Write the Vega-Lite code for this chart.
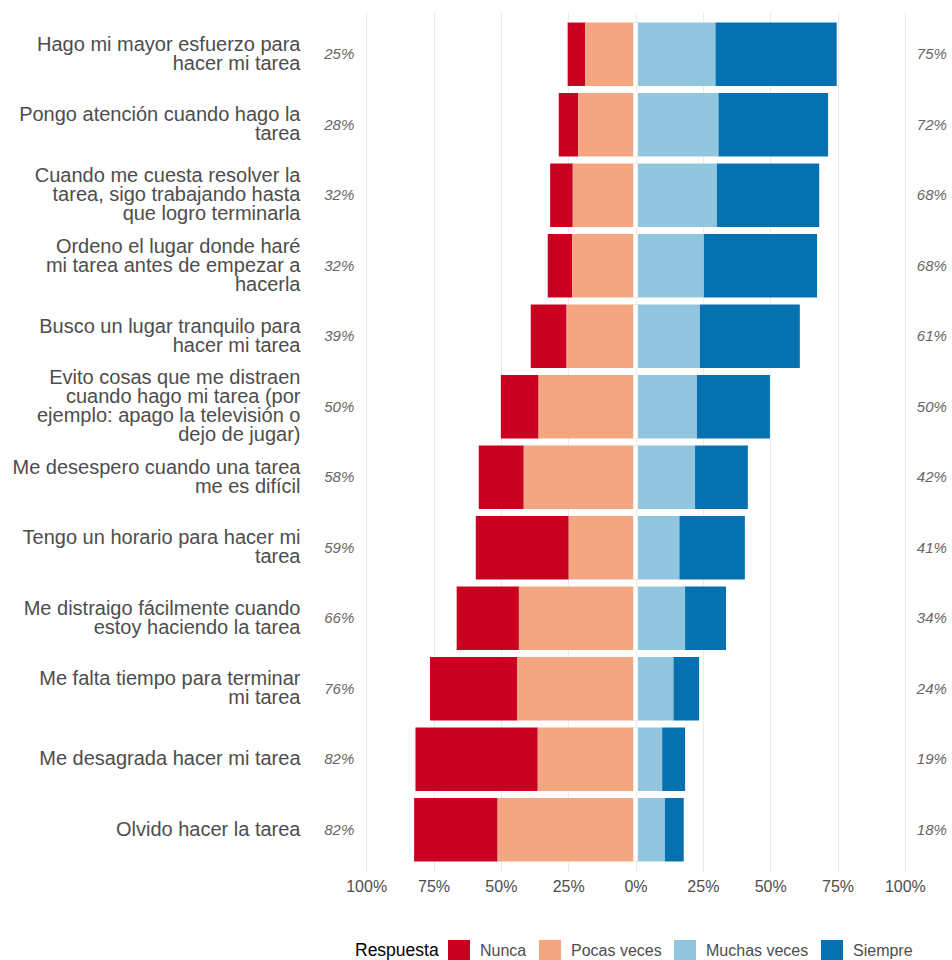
{
  "$schema": "https://vega.github.io/schema/vega-lite/v6.json",
  "autosize": "none",
  "width": 637,
  "height": 860,
  "padding": {"left": 315, "top": 12, "right": 0, "bottom": 88},
  "background": "white",
  "config": {"view": {"stroke": null}, "font": "Liberation Sans"},
  "datasets": {
    "resp": [
      {"item": "Hago mi mayor esfuerzo para|hacer mi tarea", "resp": "Nunca", "o": 2, "v": -6.5},
      {"item": "Hago mi mayor esfuerzo para|hacer mi tarea", "resp": "Pocas veces", "o": 1, "v": -18.7},
      {"item": "Hago mi mayor esfuerzo para|hacer mi tarea", "resp": "Muchas veces", "o": 1, "v": 29.7},
      {"item": "Hago mi mayor esfuerzo para|hacer mi tarea", "resp": "Siempre", "o": 2, "v": 45.0},
      {"item": "Pongo atención cuando hago la|tarea", "resp": "Nunca", "o": 2, "v": -7.2},
      {"item": "Pongo atención cuando hago la|tarea", "resp": "Pocas veces", "o": 1, "v": -21.3},
      {"item": "Pongo atención cuando hago la|tarea", "resp": "Muchas veces", "o": 1, "v": 30.8},
      {"item": "Pongo atención cuando hago la|tarea", "resp": "Siempre", "o": 2, "v": 40.7},
      {"item": "Cuando me cuesta resolver la|tarea, sigo trabajando hasta|que logro terminarla", "resp": "Nunca", "o": 2, "v": -8.4},
      {"item": "Cuando me cuesta resolver la|tarea, sigo trabajando hasta|que logro terminarla", "resp": "Pocas veces", "o": 1, "v": -23.3},
      {"item": "Cuando me cuesta resolver la|tarea, sigo trabajando hasta|que logro terminarla", "resp": "Muchas veces", "o": 1, "v": 30.2},
      {"item": "Cuando me cuesta resolver la|tarea, sigo trabajando hasta|que logro terminarla", "resp": "Siempre", "o": 2, "v": 38.0},
      {"item": "Ordeno el lugar donde haré|mi tarea antes de empezar a|hacerla", "resp": "Nunca", "o": 2, "v": -9.1},
      {"item": "Ordeno el lugar donde haré|mi tarea antes de empezar a|hacerla", "resp": "Pocas veces", "o": 1, "v": -23.5},
      {"item": "Ordeno el lugar donde haré|mi tarea antes de empezar a|hacerla", "resp": "Muchas veces", "o": 1, "v": 25.4},
      {"item": "Ordeno el lugar donde haré|mi tarea antes de empezar a|hacerla", "resp": "Siempre", "o": 2, "v": 42.0},
      {"item": "Busco un lugar tranquilo para|hacer mi tarea", "resp": "Nunca", "o": 2, "v": -13.3},
      {"item": "Busco un lugar tranquilo para|hacer mi tarea", "resp": "Pocas veces", "o": 1, "v": -25.6},
      {"item": "Busco un lugar tranquilo para|hacer mi tarea", "resp": "Muchas veces", "o": 1, "v": 23.9},
      {"item": "Busco un lugar tranquilo para|hacer mi tarea", "resp": "Siempre", "o": 2, "v": 37.1},
      {"item": "Evito cosas que me distraen|cuando hago mi tarea (por|ejemplo: apago la televisión o|dejo de jugar)", "resp": "Nunca", "o": 2, "v": -14.0},
      {"item": "Evito cosas que me distraen|cuando hago mi tarea (por|ejemplo: apago la televisión o|dejo de jugar)", "resp": "Pocas veces", "o": 1, "v": -36.0},
      {"item": "Evito cosas que me distraen|cuando hago mi tarea (por|ejemplo: apago la televisión o|dejo de jugar)", "resp": "Muchas veces", "o": 1, "v": 22.8},
      {"item": "Evito cosas que me distraen|cuando hago mi tarea (por|ejemplo: apago la televisión o|dejo de jugar)", "resp": "Siempre", "o": 2, "v": 27.1},
      {"item": "Me desespero cuando una tarea|me es difícil", "resp": "Nunca", "o": 2, "v": -16.7},
      {"item": "Me desespero cuando una tarea|me es difícil", "resp": "Pocas veces", "o": 1, "v": -41.5},
      {"item": "Me desespero cuando una tarea|me es difícil", "resp": "Muchas veces", "o": 1, "v": 22.1},
      {"item": "Me desespero cuando una tarea|me es difícil", "resp": "Siempre", "o": 2, "v": 19.6},
      {"item": "Tengo un horario para hacer mi|tarea", "resp": "Nunca", "o": 2, "v": -34.5},
      {"item": "Tengo un horario para hacer mi|tarea", "resp": "Pocas veces", "o": 1, "v": -24.8},
      {"item": "Tengo un horario para hacer mi|tarea", "resp": "Muchas veces", "o": 1, "v": 16.3},
      {"item": "Tengo un horario para hacer mi|tarea", "resp": "Siempre", "o": 2, "v": 24.3},
      {"item": "Me distraigo fácilmente cuando|estoy haciendo la tarea", "resp": "Nunca", "o": 2, "v": -23.1},
      {"item": "Me distraigo fácilmente cuando|estoy haciendo la tarea", "resp": "Pocas veces", "o": 1, "v": -43.3},
      {"item": "Me distraigo fácilmente cuando|estoy haciendo la tarea", "resp": "Muchas veces", "o": 1, "v": 18.4},
      {"item": "Me distraigo fácilmente cuando|estoy haciendo la tarea", "resp": "Siempre", "o": 2, "v": 15.2},
      {"item": "Me falta tiempo para terminar|mi tarea", "resp": "Nunca", "o": 2, "v": -32.3},
      {"item": "Me falta tiempo para terminar|mi tarea", "resp": "Pocas veces", "o": 1, "v": -44.0},
      {"item": "Me falta tiempo para terminar|mi tarea", "resp": "Muchas veces", "o": 1, "v": 14.1},
      {"item": "Me falta tiempo para terminar|mi tarea", "resp": "Siempre", "o": 2, "v": 9.5},
      {"item": "Me desagrada hacer mi tarea", "resp": "Nunca", "o": 2, "v": -45.4},
      {"item": "Me desagrada hacer mi tarea", "resp": "Pocas veces", "o": 1, "v": -36.3},
      {"item": "Me desagrada hacer mi tarea", "resp": "Muchas veces", "o": 1, "v": 9.9},
      {"item": "Me desagrada hacer mi tarea", "resp": "Siempre", "o": 2, "v": 8.5},
      {"item": "Olvido hacer la tarea", "resp": "Nunca", "o": 2, "v": -31.0},
      {"item": "Olvido hacer la tarea", "resp": "Pocas veces", "o": 1, "v": -51.2},
      {"item": "Olvido hacer la tarea", "resp": "Muchas veces", "o": 1, "v": 10.9},
      {"item": "Olvido hacer la tarea", "resp": "Siempre", "o": 2, "v": 7.0}
    ],
    "tot": [
      {"item": "Hago mi mayor esfuerzo para|hacer mi tarea", "left": "25%", "right": "75%"},
      {"item": "Pongo atención cuando hago la|tarea", "left": "28%", "right": "72%"},
      {"item": "Cuando me cuesta resolver la|tarea, sigo trabajando hasta|que logro terminarla", "left": "32%", "right": "68%"},
      {"item": "Ordeno el lugar donde haré|mi tarea antes de empezar a|hacerla", "left": "32%", "right": "68%"},
      {"item": "Busco un lugar tranquilo para|hacer mi tarea", "left": "39%", "right": "61%"},
      {"item": "Evito cosas que me distraen|cuando hago mi tarea (por|ejemplo: apago la televisión o|dejo de jugar)", "left": "50%", "right": "50%"},
      {"item": "Me desespero cuando una tarea|me es difícil", "left": "58%", "right": "42%"},
      {"item": "Tengo un horario para hacer mi|tarea", "left": "59%", "right": "41%"},
      {"item": "Me distraigo fácilmente cuando|estoy haciendo la tarea", "left": "66%", "right": "34%"},
      {"item": "Me falta tiempo para terminar|mi tarea", "left": "76%", "right": "24%"},
      {"item": "Me desagrada hacer mi tarea", "left": "82%", "right": "19%"},
      {"item": "Olvido hacer la tarea", "left": "82%", "right": "18%"}
    ]
  },
  "layer": [
    {
      "data": {"name": "resp"},
      "mark": {"type": "bar"},
      "encoding": {
        "y": {
          "field": "item", "type": "nominal",
          "sort": ["Hago mi mayor esfuerzo para|hacer mi tarea", "Pongo atención cuando hago la|tarea", "Cuando me cuesta resolver la|tarea, sigo trabajando hasta|que logro terminarla", "Ordeno el lugar donde haré|mi tarea antes de empezar a|hacerla", "Busco un lugar tranquilo para|hacer mi tarea", "Evito cosas que me distraen|cuando hago mi tarea (por|ejemplo: apago la televisión o|dejo de jugar)", "Me desespero cuando una tarea|me es difícil", "Tengo un horario para hacer mi|tarea", "Me distraigo fácilmente cuando|estoy haciendo la tarea", "Me falta tiempo para terminar|mi tarea", "Me desagrada hacer mi tarea", "Olvido hacer la tarea"],
          "scale": {"paddingInner": 0.1, "paddingOuter": 0.15},
          "axis": {
            "title": null, "labelExpr": "split(datum.value, '|')", "labelFontSize": 20, "labelColor": "#4d4d4d", "labelPadding": 15, "ticks": false, "domain": false, "grid": false, "labelLimit": 400, "labelLineHeight": 19, "labelAlign": "right", "labelBaseline": "middle",
            "labelOffset": {
              "condition": [
                {"test": "length(split(datum.value, '|')) == 2", "value": -9.5},
                {"test": "length(split(datum.value, '|')) == 3", "value": -19},
                {"test": "length(split(datum.value, '|')) == 4", "value": -28.5}
              ],
              "value": 0
            }
          }
        },
        "x": {
          "field": "v", "type": "quantitative", "stack": "zero",
          "scale": {"domain": [-119, 117.5], "nice": false},
          "axis": {"title": null, "values": [-100, -75, -50, -25, 0, 25, 50, 75, 100], "labelExpr": "abs(datum.value) + '%'", "grid": true, "gridColor": "#ebebeb", "gridWidth": 1, "ticks": false, "domain": false, "labelFontSize": 16, "labelColor": "#4d4d4d", "labelPadding": 6}
        },
        "color": {
          "field": "resp", "type": "nominal",
          "scale": {"domain": ["Nunca", "Pocas veces", "Muchas veces", "Siempre"], "range": ["#ca0020", "#f4a582", "#92c5de", "#0571b0"]},
          "legend": {"title": "Respuesta", "orient": "none", "legendX": 40, "legendY": 928, "direction": "horizontal", "titleOrient": "left", "titleFontSize": 17.5, "titleFontWeight": "normal", "titleColor": "#000000", "labelFontSize": 16, "labelColor": "#4d4d4d", "symbolType": "square", "symbolSize": 484, "symbolStrokeWidth": 0, "symbolOpacity": 1, "labelOffset": 10, "columnPadding": 12, "titlePadding": 9}
        },
        "order": {"field": "o", "type": "quantitative"}
      }
    },
    {
      "data": {"name": "tot"},
      "mark": {"type": "bar", "color": "white"},
      "encoding": {
        "y": {"field": "item", "type": "nominal", "sort": ["Hago mi mayor esfuerzo para|hacer mi tarea", "Pongo atención cuando hago la|tarea", "Cuando me cuesta resolver la|tarea, sigo trabajando hasta|que logro terminarla", "Ordeno el lugar donde haré|mi tarea antes de empezar a|hacerla", "Busco un lugar tranquilo para|hacer mi tarea", "Evito cosas que me distraen|cuando hago mi tarea (por|ejemplo: apago la televisión o|dejo de jugar)", "Me desespero cuando una tarea|me es difícil", "Tengo un horario para hacer mi|tarea", "Me distraigo fácilmente cuando|estoy haciendo la tarea", "Me falta tiempo para terminar|mi tarea", "Me desagrada hacer mi tarea", "Olvido hacer la tarea"]},
        "x": {"datum": -0.85},
        "x2": {"datum": 0.85}
      }
    },
    {
      "data": {"name": "tot"},
      "mark": {"type": "text", "fontStyle": "italic", "fontSize": 15, "color": "#666666", "align": "center", "baseline": "middle"},
      "encoding": {
        "y": {"field": "item", "type": "nominal", "sort": ["Hago mi mayor esfuerzo para|hacer mi tarea", "Pongo atención cuando hago la|tarea", "Cuando me cuesta resolver la|tarea, sigo trabajando hasta|que logro terminarla", "Ordeno el lugar donde haré|mi tarea antes de empezar a|hacerla", "Busco un lugar tranquilo para|hacer mi tarea", "Evito cosas que me distraen|cuando hago mi tarea (por|ejemplo: apago la televisión o|dejo de jugar)", "Me desespero cuando una tarea|me es difícil", "Tengo un horario para hacer mi|tarea", "Me distraigo fácilmente cuando|estoy haciendo la tarea", "Me falta tiempo para terminar|mi tarea", "Me desagrada hacer mi tarea", "Olvido hacer la tarea"]},
        "x": {"datum": -110},
        "text": {"field": "left"}
      }
    },
    {
      "data": {"name": "tot"},
      "mark": {"type": "text", "fontStyle": "italic", "fontSize": 15, "color": "#666666", "align": "center", "baseline": "middle"},
      "encoding": {
        "y": {"field": "item", "type": "nominal", "sort": ["Hago mi mayor esfuerzo para|hacer mi tarea", "Pongo atención cuando hago la|tarea", "Cuando me cuesta resolver la|tarea, sigo trabajando hasta|que logro terminarla", "Ordeno el lugar donde haré|mi tarea antes de empezar a|hacerla", "Busco un lugar tranquilo para|hacer mi tarea", "Evito cosas que me distraen|cuando hago mi tarea (por|ejemplo: apago la televisión o|dejo de jugar)", "Me desespero cuando una tarea|me es difícil", "Tengo un horario para hacer mi|tarea", "Me distraigo fácilmente cuando|estoy haciendo la tarea", "Me falta tiempo para terminar|mi tarea", "Me desagrada hacer mi tarea", "Olvido hacer la tarea"]},
        "x": {"datum": 110},
        "text": {"field": "right"}
      }
    }
  ]
}
